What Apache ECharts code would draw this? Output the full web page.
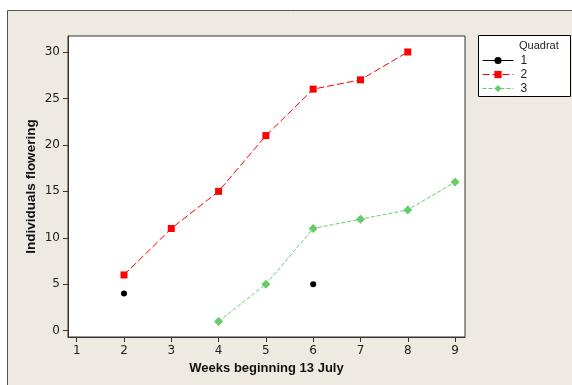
<!DOCTYPE html>
<html>
<head>
<meta charset="utf-8">
<script src="https://cdn.jsdelivr.net/npm/echarts@6/dist/echarts.min.js"></script>
<style>html,body{margin:0;padding:0;background:#fff}#c{width:572px;height:385px}</style>
</head>
<body>
<div id="c"></div>
<script>
var weeks = [1, 2, 3, 4, 5, 6, 7, 8, 9];
var quadrat1 = [null, 4, null, null, null, 5, null, null, null];
var quadrat2 = [null, 6, 11, 15, 21, 26, 27, 30, null];
var quadrat3 = [null, null, null, 1, 5, 11, 12, 13, 16];
var xTicks = [1, 2, 3, 4, 5, 6, 7, 8, 9];
var yTicks = [0, 5, 10, 15, 20, 25, 30];
var seriesNames = ['1', '2', '3'];

function pairs(arr) {
  return weeks.map(function (w, i) { return [w, arr[i] === null ? '-' : arr[i]]; });
}

var chart = echarts.init(document.getElementById('c'), null, {renderer: 'canvas'});
var labelFont = {fontFamily: 'DejaVu Sans', fontSize: 12, color: '#222'};
chart.setOption({
  backgroundColor: '#fff',
  animation: false,
  graphic: [
    {type: 'rect', z: -100, shape: {x: 7.5, y: 10.5, width: 600, height: 400},
     style: {fill: '#EEEAE1', stroke: '#555', lineWidth: 1}},
    {type: 'rect', z: 5, shape: {x: 478.5, y: 35.5, width: 92, height: 61},
     style: {fill: '#fff', stroke: '#000', lineWidth: 1}},
    {type: 'text', z: 6, x: 519, y: 40,
     style: {text: 'Quadrat', fill: '#222', font: '11px "Liberation Sans"'}}
  ],
  grid: {left: 68, top: 36, right: 107, bottom: 48, show: true,
         backgroundColor: '#fff', borderColor: '#333', borderWidth: 1},
  legend: {
    orient: 'vertical', left: 482, top: 53.5, z: 10,
    itemWidth: 31, itemHeight: 9, itemGap: 0, padding: 0,
    data: seriesNames,
    lineStyle: {width: 1},
    textStyle: {fontFamily: 'Liberation Sans', fontSize: 12, lineHeight: 14, color: '#222', padding: [0, 0, 0, 2]}
  },
  xAxis: {
    type: 'value', min: 0.816, max: 9.21,
    name: 'Weeks beginning 13 July', nameLocation: 'middle', nameGap: 24,
    nameTextStyle: {fontFamily: 'Liberation Sans', fontSize: 13, fontWeight: 'bold', color: '#111'},
    axisLine: {show: true, onZero: false, lineStyle: {color: '#333'}},
    axisTick: {show: true, length: 5, customValues: xTicks, lineStyle: {color: '#333'}},
    axisLabel: Object.assign({margin: 8, customValues: xTicks}, labelFont),
    splitLine: {show: false}
  },
  yAxis: {
    type: 'value', min: -0.68, max: 31.72,
    name: 'Individuals flowering', nameLocation: 'middle', nameGap: 30, nameRotate: 90,
    nameMoveOverlap: false,
    nameTextStyle: {fontFamily: 'Liberation Sans', fontSize: 13.5, fontWeight: 'bold', color: '#111'},
    axisLine: {show: true, onZero: false, lineStyle: {color: '#333'}},
    axisTick: {show: true, length: 5, customValues: yTicks, lineStyle: {color: '#333'}},
    axisLabel: Object.assign({margin: 8, customValues: yTicks}, labelFont),
    splitLine: {show: false}
  },
  series: [
    {name: seriesNames[0], type: 'line', data: pairs(quadrat1), connectNulls: false,
     symbol: 'circle', symbolSize: 6, showSymbol: true, showAllSymbol: true,
     itemStyle: {color: '#000'}, lineStyle: {color: '#000', width: 1, type: 'solid'}},
    {name: seriesNames[1], type: 'line', data: pairs(quadrat2), connectNulls: false,
     symbol: 'rect', symbolSize: 7, showSymbol: true, showAllSymbol: true,
     itemStyle: {color: '#FF0000'}, lineStyle: {color: '#FF0000', width: 1, type: [7, 3]}},
    {name: seriesNames[2], type: 'line', data: pairs(quadrat3), connectNulls: false,
     symbol: 'diamond', symbolSize: 9, showSymbol: true, showAllSymbol: true,
     itemStyle: {color: '#66CC66'}, lineStyle: {color: '#66CC66', width: 1, type: [4, 2]}}
  ]
});
</script>
</body>
</html>
